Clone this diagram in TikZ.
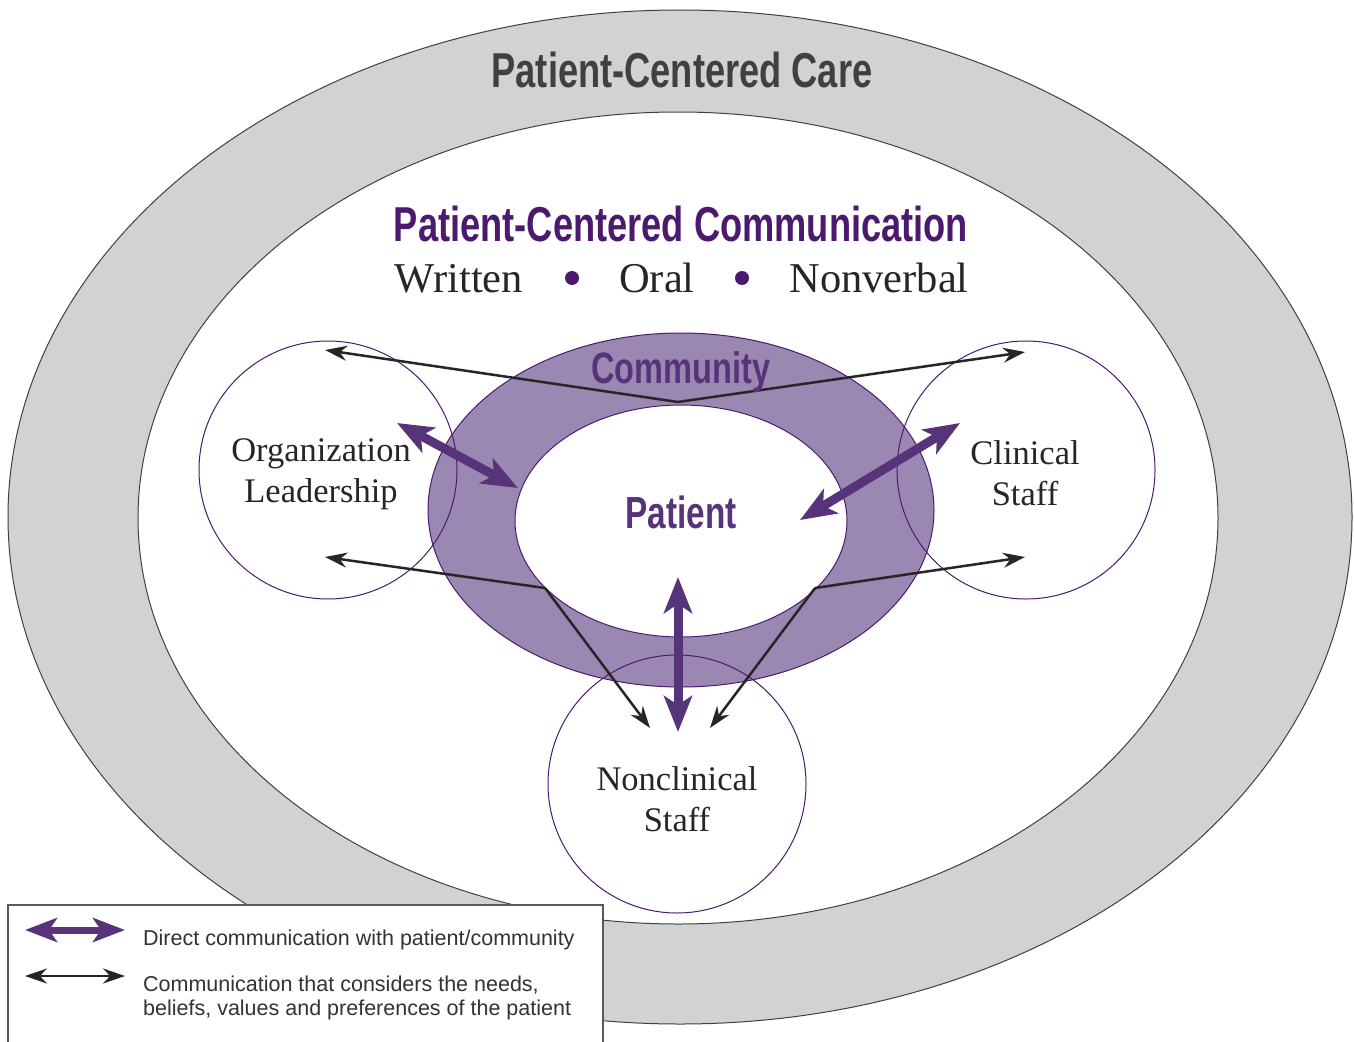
\documentclass[tikz,border=0pt]{standalone}
\usepackage{fontspec}
\usetikzlibrary{arrows.meta}
\newfontfamily\headfont[FakeStretch=0.74]{Liberation Sans}
\newfontfamily\legendfont{Liberation Sans}
\newfontfamily\modefont{Liberation Serif}
\definecolor{ringgray}{RGB}{209,210,212}
\definecolor{commpurple}{RGB}{154,136,179}
\definecolor{deeppurple}{RGB}{75,26,110}
\definecolor{arrowpurple}{RGB}{87,52,122}
\definecolor{textdark}{RGB}{64,64,66}
\tikzset{
	role/.style={circle, draw=deeppurple, line width=1pt, minimum size=258pt, inner sep=0pt},
	roletext/.style={align=center, text=black!85, font=\modefont\fontsize{34.5}{41}\selectfont},
	thinarrow/.style={line width=2.5pt, draw=black!85, -{Stealth[length=22pt,width=15pt]}},
	thickarrow/.style={line width=9pt, draw=arrowpurple, {Stealth[length=36pt,width=28pt,inset=9pt]}-{Stealth[length=36pt,width=28pt,inset=9pt]}},
	headline/.style={anchor=base, font=\headfont\bfseries\fontsize{#1}{#1}\selectfont},
	modes/.style={anchor=base, text=black!85, font=\modefont\fontsize{42.5}{42.5}\selectfont},
	legendtext/.style={anchor=base west, align=left, inner xsep=0pt, text=black!80, font=\legendfont\fontsize{21.5}{24}\selectfont}
}

\begin{document}
\begin{tikzpicture}[x=1pt, y=-1pt]
	\useasboundingbox (0, 0) rectangle (1354, 1041);
	
	% rings
	\draw [line width=1pt, draw=black!75, fill=ringgray] (680, 517) ellipse [x radius=672pt, y radius=507pt];
	\draw [line width=1pt, draw=black!75, fill=white] (678, 518) ellipse [x radius=540pt, y radius=406pt];
	\draw [line width=1pt, draw=deeppurple, fill=commpurple] (681, 510) ellipse [x radius=253pt, y radius=177pt];
	\draw [line width=1pt, draw=deeppurple, fill=white] (681, 521) ellipse [x radius=166pt, y radius=116pt];
	
	% staff groups
	\node [role] (org) at (328, 470) {};
	\node [role] (clin) at (1026, 470) {};
	\node [role] (nonclin) at (677, 784) {};
	\node [roletext] (orgtext) at (321, 474) {Organization\\Leadership};
	\node [roletext] (clintext) at (1025, 473) {Clinical\\Staff};
	\node [roletext] (nonclintext) at (677, 799) {Nonclinical\\Staff};
	
	% thin arrows
	\coordinate (topapex) at (678, 402);
	\coordinate (leftapex) at (545, 588);
	\coordinate (rightapex) at (815, 588);
	\coordinate (orgup) at (325, 350);
	\coordinate (orglow) at (325, 557);
	\coordinate (clinup) at (1025, 352);
	\coordinate (clinlow) at (1025, 557);
	\coordinate (nonleft) at (650, 728);
	\coordinate (nonright) at (710, 728);
	\draw [thinarrow] (topapex) -- (orgup);
	\draw [thinarrow] (topapex) -- (clinup);
	\draw [thinarrow] (leftapex) -- (orglow);
	\draw [thinarrow] (leftapex) -- (nonleft);
	\draw [thinarrow] (rightapex) -- (clinlow);
	\draw [thinarrow] (rightapex) -- (nonright);
	
	% thick arrows
	\coordinate (orgend) at (397, 423);
	\coordinate (patleft) at (518, 488);
	\coordinate (clinend) at (960, 423);
	\coordinate (patright) at (800, 520);
	\coordinate (patlow) at (678, 577);
	\coordinate (nonend) at (678, 732);
	\draw [thickarrow] (orgend) -- (patleft);
	\draw [thickarrow] (clinend) -- (patright);
	\draw [thickarrow] (patlow) -- (nonend);
	
	% titles
	\node [headline=49, text=textdark] (care) at (682, 88) {Patient-Centered Care};
	\node [headline=49, text=deeppurple] (comm) at (681, 241) {Patient-Centered Communication};
	\node [modes] (written) at (459, 292) {Written};
	\node [modes] (oral) at (657, 292) {Oral};
	\node [modes] (nonverbal) at (879, 292) {Nonverbal};
	\fill [deeppurple] (572, 278) circle [radius=7pt];
	\fill [deeppurple] (742, 278) circle [radius=7pt];
	\node [headline=44, text=arrowpurple] (community) at (681, 383) {Community};
	\node [headline=45, text=arrowpurple] (patient) at (681, 528) {Patient};
	
	% legend
	\draw [line width=1.2pt, draw=black!65, fill=white] (8, 905) rectangle (603, 1060);
	\coordinate (keyaleft) at (25, 930);
	\coordinate (keyaright) at (125, 930);
	\coordinate (keybleft) at (25, 976);
	\coordinate (keybright) at (125, 976);
	\draw [line width=7pt, draw=arrowpurple, {Stealth[length=32pt,width=24pt,inset=8pt]}-{Stealth[length=32pt,width=24pt,inset=8pt]}] (keyaleft) -- (keyaright);
	\draw [line width=2.5pt, draw=black!85, {Stealth[length=22pt,width=15pt]}-{Stealth[length=22pt,width=15pt]}] (keybleft) -- (keybright);
	\node [legendtext] (keya) at (143, 945) {Direct communication with patient/community};
	\node [legendtext] (keyb) at (143, 1015) {Communication that considers the needs,\\beliefs, values and preferences of the patient};
\end{tikzpicture}
\end{document}
